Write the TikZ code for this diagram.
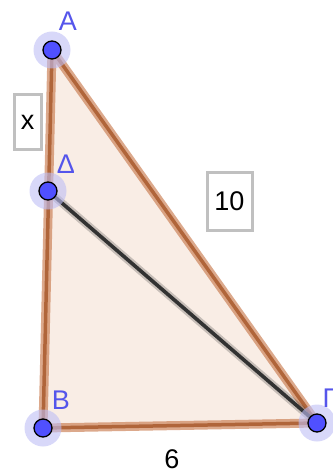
\documentclass[tikz,border=0pt]{standalone}
\usepackage{fontspec}
\setmainfont{Liberation Sans}
\definecolor{sidebrown}{RGB}{196,112,64}
\definecolor{trifill}{RGB}{249,237,229}
\definecolor{ptblue}{RGB}{80,80,255}
\definecolor{halo}{RGB}{190,190,245}
\definecolor{lblblue}{RGB}{85,85,235}
\definecolor{boxgray}{RGB}{192,192,192}
\definecolor{segdark}{RGB}{50,50,50}
\usetikzlibrary{positioning,calc}

\begin{document}
\begin{tikzpicture}[x=1pt,y=-1pt,
  side/.style={draw=sidebrown,line width=9pt,opacity=0.6,line cap=round,line join=round},
  sidecore/.style={draw=sidebrown!90!black,line width=3.5pt,line cap=round,line join=round},
  seg/.style={draw=segdark,line width=3.6pt,line cap=round},
  seghalo/.style={draw=segdark,line width=8pt,opacity=0.25,line cap=round},
  pt/.style={circle,fill=ptblue,draw=black,line width=1.3pt,minimum size=18pt,inner sep=0pt},
  pthalo/.style={circle,fill=halo,opacity=0.6,minimum size=37pt,inner sep=0pt},
  lbl/.style={text=lblblue,font=\fontsize{27}{30}\selectfont,inner sep=0pt},
  valbox/.style={draw=boxgray,line width=3pt,fill=white,font=\fontsize{27}{30}\selectfont,inner sep=0pt}]
  \useasboundingbox (0,0) rectangle (332,473);

  \coordinate (A) at (52,50);
  \coordinate (D) at (48,191);
  \coordinate (B) at (43,428);
  \coordinate (G) at (317,423);

  % triangle
  \fill[trifill] (A) -- (B) -- (G) -- cycle;
  \draw[side] (A) -- (B) -- (G) -- cycle;
  \draw[sidecore] (A) -- (B) -- (G) -- cycle;

  % segment from Delta
  \draw[seghalo] (D) -- (G);
  \draw[seg] (D) -- (G);

  % points
  \foreach \p in {A,D,B,G}{
    \node[pthalo] at (\p) {};
    \node[pt] (pt\p) at (\p) {};
  }

  \node[lbl] (lblA) at (68,21) {A};
  \node[lbl] (lblD) at (66,164) {Δ};
  \node[lbl] (lblB) at (61,400) {B};
  \node[lbl] (lblG) at (330,398) {Γ};

  \node[valbox,minimum width=27pt,minimum height=55pt] (valx) at (27.5,122.5) {x};
  \node[valbox,minimum width=45pt,minimum height=58pt] (val10) at (229.5,201) {10};
  \node[font=\fontsize{27}{30}\selectfont,inner sep=0pt] (val6) at (172,459) {6};
\end{tikzpicture}
\end{document}
